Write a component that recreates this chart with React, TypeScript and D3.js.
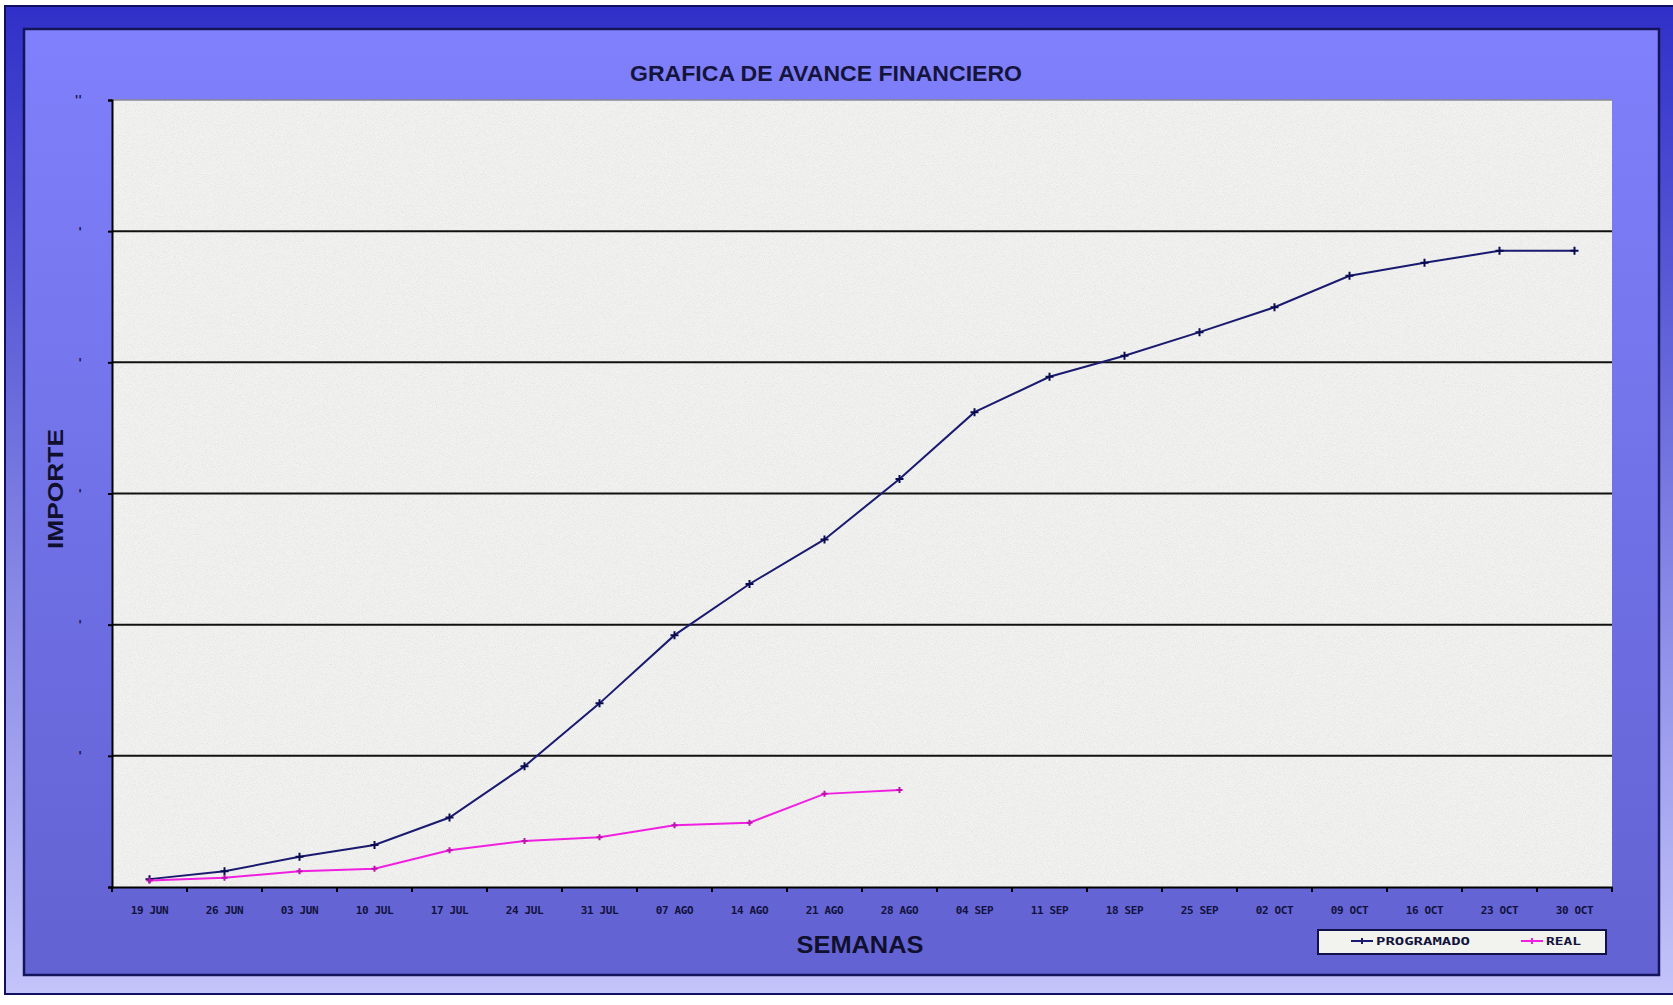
import { useEffect, useRef } from 'react';
import * as d3 from 'd3';

// week labels, as printed on the chart (the third one really says JUN)
const weeks = [
  '19 JUN', '26 JUN', '03 JUN', '10 JUL', '17 JUL', '24 JUL', '31 JUL', '07 AGO', '14 AGO', '21 AGO',
  '28 AGO', '04 SEP', '11 SEP', '18 SEP', '25 SEP', '02 OCT', '09 OCT', '16 OCT', '23 OCT', '30 OCT',
];

// cumulative amounts, in gridline units
const programado = [
  0.06, 0.12, 0.23, 0.32, 0.53, 0.92, 1.4, 1.92, 2.31, 2.65, 3.11, 3.62, 3.89, 4.05, 4.23, 4.42, 4.66, 4.76,
  4.85, 4.85,
];
const real = [0.05, 0.07, 0.12, 0.14, 0.28, 0.35, 0.38, 0.47, 0.49, 0.71, 0.74];

// the y tick labels are only tiny specks in the original
const yTicks = [0, 1, 2, 3, 4, 5, 6];
const yLabels = ['', "'", "'", "'", "'", "'", "''"];

const W = 1673;
const H = 1005;

export default function App(): JSX.Element {
  const svgRef = useRef<SVGSVGElement>(null);

  useEffect(() => {
    if (svgRef.current) {
      svgRef.current.innerHTML = '';
    }
    const marginLeft = 112;
    const plotRight = 1612;
    const plotTop = 100;
    const plotBottom = 887;

    const x = d3.scaleBand(weeks, [marginLeft, plotRight]);
    const y = d3.scaleLinear([0, 6], [plotBottom, plotTop]);
    const cx = (i: number) => (x(weeks[i]) as number) + x.bandwidth() / 2;

    const svg = d3.select(svgRef.current).attr('width', W).attr('height', H).attr('viewBox', [0, 0, W, H]);

    const defs = svg.append('defs');
    const outerGrad = defs.append('linearGradient').attr('id', 'outerGrad').attr('x1', 0).attr('y1', 0).attr('x2', 0).attr('y2', 1);
    outerGrad.append('stop').attr('offset', '0%').attr('stop-color', '#3030c8');
    outerGrad.append('stop').attr('offset', '100%').attr('stop-color', '#c4c4fa');
    const innerGrad = defs.append('linearGradient').attr('id', 'innerGrad').attr('x1', 0).attr('y1', 0).attr('x2', 0).attr('y2', 1);
    innerGrad.append('stop').attr('offset', '0%').attr('stop-color', '#8080fc');
    innerGrad.append('stop').attr('offset', '100%').attr('stop-color', '#6262d2');
    const noise = defs.append('filter').attr('id', 'noise').attr('x', 0).attr('y', 0).attr('width', 1).attr('height', 1);
    noise.append('feTurbulence').attr('type', 'fractalNoise').attr('baseFrequency', 1.1).attr('numOctaves', 2).attr('seed', 7);
    noise
      .append('feColorMatrix')
      .attr('type', 'matrix')
      .attr('values', '1 0 0 0 0  1 0 0 0 0  1 0 0 0 0  0 0 0 0 0.14');

    // page + frames
    svg.append('rect').attr('width', W).attr('height', H).attr('fill', '#ffffff');
    svg.append('rect').attr('x', 5).attr('y', 6).attr('width', W).attr('height', 988).attr('fill', 'url(#outerGrad)')
      .attr('stroke', '#101060').attr('stroke-width', 2);
    svg.append('rect').attr('x', 24).attr('y', 29).attr('width', 1635).attr('height', 946).attr('fill', 'url(#innerGrad)')
      .attr('stroke', '#14145a').attr('stroke-width', 2.5);

    // plot area
    svg.append('rect').attr('x', marginLeft).attr('y', plotTop).attr('width', plotRight - marginLeft)
      .attr('height', plotBottom - plotTop).attr('fill', '#f7f7f5');
    svg.append('rect').attr('x', marginLeft).attr('y', plotTop).attr('width', plotRight - marginLeft)
      .attr('height', plotBottom - plotTop).attr('filter', 'url(#noise)');
    svg.append('line').attr('x1', marginLeft).attr('x2', plotRight).attr('y1', plotTop).attr('y2', plotTop)
      .attr('stroke', '#8a8a94').attr('stroke-width', 1.5);

    // gridlines
    svg.append('g')
      .selectAll('line')
      .data(yTicks.slice(1, -1))
      .join('line')
      .attr('x1', marginLeft)
      .attr('x2', plotRight)
      .attr('y1', (d) => y(d))
      .attr('y2', (d) => y(d))
      .attr('stroke', '#111111')
      .attr('stroke-width', 2);

    // y axis
    svg.append('g')
      .attr('transform', `translate(${marginLeft},0)`)
      .call(d3.axisLeft(y).tickValues(yTicks).tickSize(4).tickPadding(26).tickFormat((d) => yLabels[d as number]))
      .call((g) => g.select('.domain').attr('stroke', '#000').attr('stroke-width', 2))
      .call((g) => g.selectAll('.tick line').attr('stroke', '#000').attr('stroke-width', 2))
      .call((g) => g.selectAll('.tick text').attr('fill', '#10104a').attr('font-size', 12).attr('font-weight', 'bold')
        .attr('font-family', 'DejaVu Sans'));

    // x axis: labels centred in bands, ticks on band edges
    svg.append('g')
      .attr('transform', `translate(0,${plotBottom})`)
      .call(d3.axisBottom(x).tickSize(0).tickPadding(19).tickSizeOuter(0))
      .call((g) => g.select('.domain').attr('stroke', '#000').attr('stroke-width', 2))
      .call((g) => g.selectAll('.tick text').attr('fill', '#12123c').attr('font-size', 11).attr('font-weight', 'bold')
        .attr('font-family', 'DejaVu Sans Mono').attr('letter-spacing', -0.4));
    const edges = weeks.map((w) => x(w) as number).concat([plotRight]);
    svg.append('g')
      .selectAll('line')
      .data(edges)
      .join('line')
      .attr('x1', (d) => d)
      .attr('x2', (d) => d)
      .attr('y1', plotBottom)
      .attr('y2', plotBottom + 5)
      .attr('stroke', '#000')
      .attr('stroke-width', 2);

    const line = d3
      .line<number>()
      .x((_, i) => cx(i))
      .y((d) => y(d));

    const plus = 'M-4,0H4M0,-4V4';

    // programado
    svg.append('path').attr('fill', 'none').attr('stroke', '#1a1a70').attr('stroke-width', 2).attr('d', line(programado));
    svg.append('g')
      .selectAll('path')
      .data(programado)
      .join('path')
      .attr('transform', (d, i) => `translate(${cx(i)},${y(d)})`)
      .attr('d', plus)
      .attr('stroke', '#0a0a50')
      .attr('stroke-width', 2);

    // real
    svg.append('path').attr('fill', 'none').attr('stroke', '#f020e0').attr('stroke-width', 2).attr('d', line(real));
    svg.append('g')
      .selectAll('path')
      .data(real)
      .join('path')
      .attr('transform', (d, i) => `translate(${cx(i)},${y(d)})`)
      .attr('d', 'M-3,0H3M0,-3V3')
      .attr('stroke', '#c010b0')
      .attr('stroke-width', 2);

    // titles
    svg.append('text').attr('x', 826).attr('y', 81).attr('text-anchor', 'middle').attr('font-family', 'Liberation Sans')
      .attr('font-weight', 'bold').attr('font-size', 22).attr('fill', '#14143c').attr('textLength', 392)
      .attr('lengthAdjust', 'spacingAndGlyphs').text('GRAFICA DE AVANCE FINANCIERO');
    svg.append('text').attr('x', 860).attr('y', 953).attr('text-anchor', 'middle').attr('font-family', 'Liberation Sans')
      .attr('font-weight', 'bold').attr('font-size', 23).attr('fill', '#10102e').attr('textLength', 127)
      .attr('lengthAdjust', 'spacingAndGlyphs').text('SEMANAS');
    svg.append('text').attr('transform', 'translate(63,489) rotate(-90)').attr('text-anchor', 'middle')
      .attr('font-family', 'Liberation Sans').attr('font-weight', 'bold').attr('font-size', 22).attr('fill', '#10102e')
      .attr('textLength', 120).attr('lengthAdjust', 'spacingAndGlyphs').text('IMPORTE');

    // legend
    const lg = svg.append('g');
    lg.append('rect').attr('x', 1318).attr('y', 930).attr('width', 288).attr('height', 24).attr('fill', '#f2f2ee')
      .attr('stroke', '#10104a').attr('stroke-width', 2);
    const items = [
      { name: 'PROGRAMADO', color: '#1a1a70', x0: 1351, len: 94 },
      { name: 'REAL', color: '#f020e0', x0: 1521, len: 35 },
    ];
    items.forEach((it) => {
      lg.append('line').attr('x1', it.x0).attr('x2', it.x0 + 22).attr('y1', 941).attr('y2', 941)
        .attr('stroke', it.color).attr('stroke-width', 2);
      lg.append('path').attr('transform', `translate(${it.x0 + 11},941)`).attr('d', 'M0,-3V3')
        .attr('stroke', it.color).attr('stroke-width', 2);
      lg.append('text').attr('x', it.x0 + 25).attr('y', 945).attr('font-family', 'DejaVu Sans Mono')
        .attr('font-weight', 'bold').attr('font-size', 11).attr('fill', '#12123c').attr('textLength', it.len)
        .attr('lengthAdjust', 'spacingAndGlyphs').text(it.name);
    });
  }, []);

  return <svg ref={svgRef} style={{ position: 'absolute', left: 0, top: 0 }} />;
}
